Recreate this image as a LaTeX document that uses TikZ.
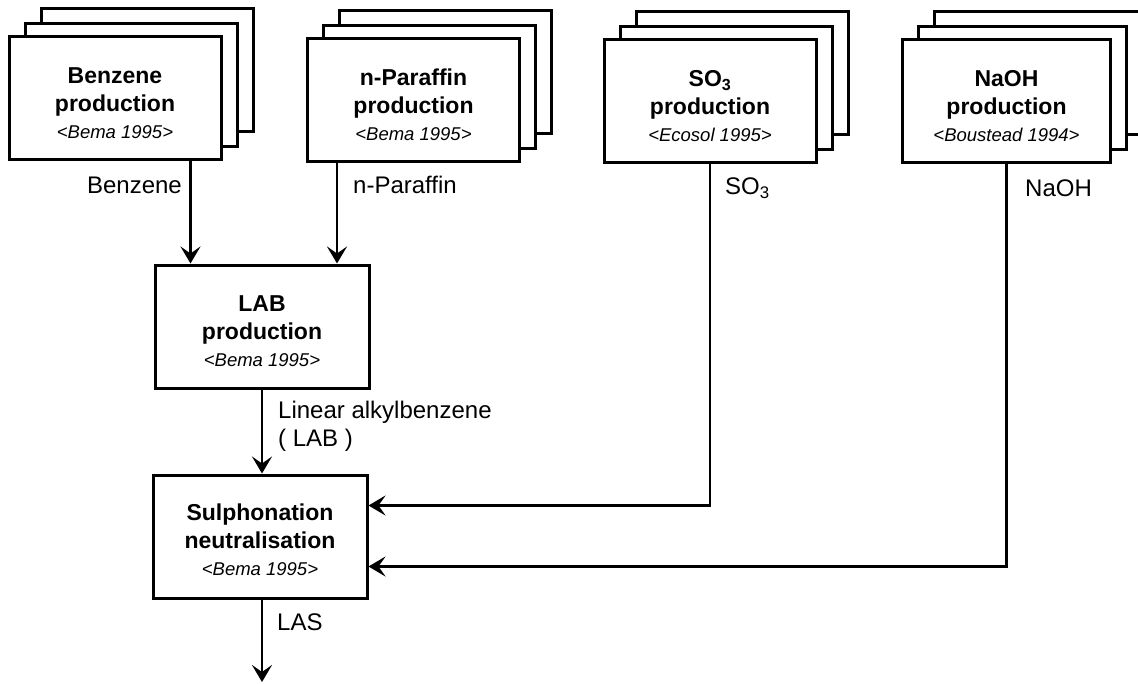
\documentclass[tikz,border=0pt]{standalone}
\usepackage{fontspec}
\setmainfont{Liberation Sans}
\usetikzlibrary{arrows.meta}
\begin{document}
\begin{tikzpicture}[x=1pt,y=-1pt,
  proc/.style={draw,line width=3pt,fill=white,minimum width=212pt,minimum height=123pt,inner sep=0pt},
  title/.style={align=center,inner sep=0pt,font=\fontsize{23}{28}\selectfont\bfseries},
  flow/.style={line width=2.6pt,-{Stealth[length=17pt,width=20pt,inset=7pt]}},
  lbl/.style={font=\fontsize{24}{28}\selectfont,inner sep=0pt}
]
\clip (0,0) rectangle (1138,683);
\fill[white] (0,0) rectangle (1138,683);
\newcommand{\refline}[1]{\\[-1pt]{\fontsize{18.5}{24}\selectfont\mdseries\itshape #1}}
% Benzene stack
\node[proc] (benzC) at (147,70) {};
\node[proc] (benzB) at (131,85) {};
\node[proc] (benz) at (115,98) {};
\node[title] (benzT) at ([yshift=-5pt]benz.center) {Benzene\\production\refline{<Bema 1995>}};
% n-Paraffin stack
\node[proc] (nparC) at (445.5,72) {};
\node[proc] (nparB) at (429.5,87) {};
\node[proc] (npar) at (413.5,100) {};
\node[title] (nparT) at ([yshift=-5pt]npar.center) {n-Paraffin\\production\refline{<Bema 1995>}};
% SO3 stack
\node[proc] (so3C) at (742,73) {};
\node[proc] (so3B) at (726,88) {};
\node[proc] (so3) at (710,101) {};
\node[title] (so3T) at ([yshift=-5pt]so3.center) {SO\textsubscript{3}\\production\refline{<Ecosol 1995>}};
% NaOH stack
\node[proc,minimum width=208pt] (naohC) at (1038.5,73) {};
\node[proc,minimum width=208pt] (naohB) at (1022.5,88) {};
\node[proc,minimum width=208pt] (naoh) at (1006.5,101) {};
\node[title] (naohT) at ([yshift=-5pt]naoh.center) {NaOH\\production\refline{<Boustead 1994>}};
% LAB
\node[proc,minimum width=214pt] (lab) at (262,326.5) {};
\node[title] (labT) at ([yshift=-5pt]lab.center) {LAB\\production\refline{<Bema 1995>}};
% Sulphonation
\node[proc,minimum width=214pt] (sul) at (260,536.5) {};
\node[title] (sulT) at ([yshift=-3pt]sul.center) {Sulphonation\\neutralisation\refline{<Bema 1995>}};
\coordinate (out) at (262,682);
% flows
\draw[flow] ([xshift=-32pt]benz.south east) -- ([xshift=-32pt]benz.south east |- lab.north);
\draw[flow] ([xshift=31pt]npar.south west) -- ([xshift=31pt]npar.south west |- lab.north);
\draw[flow] (lab.south) -- (lab.south |- sul.north);
\draw[flow] (so3.south) |- ([yshift=31pt]sul.east);
\draw[flow] (naoh.south) |- ([yshift=-30pt]sul.east);
\draw[flow] (sul.south -| out) -- (out);
% labels
\node[lbl,anchor=east] (lbenz) at (182,185) {Benzene};
\node[lbl,anchor=west] (lnpar) at (353,185) {n-Paraffin};
\node[lbl,anchor=west] (lso3) at (725,188) {SO\textsubscript{3}};
\node[lbl,anchor=west] (lnaoh) at (1025,188) {NaOH};
\node[lbl,anchor=west] (llab1) at (278,412) {Linear alkylbenzene};
\node[lbl,anchor=west] (llab2) at (278,440) {( LAB )};
\node[lbl,anchor=west] (llas) at (277,622) {LAS};
\end{tikzpicture}
\end{document}
